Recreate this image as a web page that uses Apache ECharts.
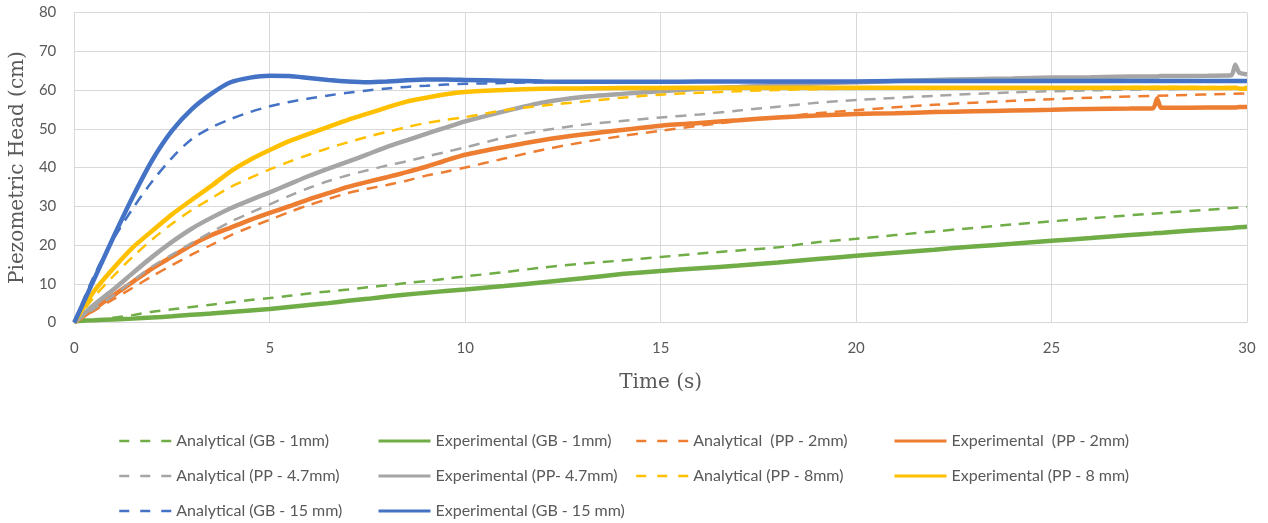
<!DOCTYPE html>
<html>
<head>
<meta charset="utf-8">
<script src="https://cdn.jsdelivr.net/npm/echarts@6/dist/echarts.min.js"></script>
<style>
html,body{margin:0;padding:0;background:#fff;}
#chart{width:1268px;height:523px;}
</style>
</head>
<body>
<div id="chart"></div>
<script>
// ---- axis ticks ----
const xTicks = [0, 5, 10, 15, 20, 25, 30];
const yTicks = [0, 10, 20, 30, 40, 50, 60, 70, 80];

// ---- analytical series (time in s) ----
const tAnalytical = [0,0.5,1,1.5,2,2.5,3,3.5,4,4.5,5,5.5,6,6.5,7,7.5,8,8.5,9,9.5,10,11,12,13,14,15,16,17,18,19,20,22,24,26,28,30];
const anaGB1  = [0,0.5,1.2,1.9,2.8,3.4,4,4.6,5.2,5.8,6.3,6.9,7.5,8,8.5,9.1,9.6,10.2,10.7,11.3,11.9,13,14.2,15.2,16,16.9,17.8,18.6,19.4,20.7,21.6,23.5,25.3,26.9,28.4,29.8];
const anaPP2  = [0,3,6,9,12,14.8,17.5,20,22.5,24.6,26.5,28.5,30.3,31.9,33.4,34.5,35.5,36.6,37.9,38.9,40,42.3,44.6,46.5,48.1,49.5,50.8,52,53,54,54.8,56.2,57.2,58,58.6,59.1];
const anaPP47 = [0,3.5,7,10.8,14.5,17.5,20.5,23.3,26,28.3,30.5,32.7,34.7,36.5,38,39.3,40.5,41.6,42.8,44,45.2,47.7,49.6,51,52,52.9,53.7,54.7,55.7,56.7,57.4,58.5,59.4,59.9,60.2,60.5];
const anaPP8  = [0,6.5,12,17,21.5,25.5,29,32,35,37.3,39.5,41.5,43.3,45,46.5,47.9,49.2,50.4,51.5,52.3,53,54.8,56,57,58,58.8,59.3,59.7,60,60.2,60.3,60.5,60.6,60.7,60.8,60.8];
const anaGB15 = [0,12,21.5,29.5,36.5,42.5,47.3,50.3,52.5,54.3,55.8,56.9,57.8,58.6,59.3,59.9,60.4,60.8,61.1,61.4,61.6,61.8,62,62.1,62.1,62.1,62.1,62.1,62.1,62.1,62.1,62.1,62.1,62.1,62.1,62.1];

// ---- experimental series ----
const tExperimental = [0,0.5,1,1.5,2,2.5,3,3.5,4,4.5,5,5.5,6,6.5,7,7.5,8,8.5,9,9.5,10,11,12,13,14,15,16,17,18,19,20,21,22,23,24,25,26,27,27.6,27.7,27.8,28,29,29.6,29.7,29.8,30];
const expGB1  = [0.5,0.6,0.8,1,1.3,1.6,2,2.3,2.7,3.1,3.5,4,4.5,5,5.6,6.1,6.7,7.2,7.7,8.1,8.5,9.4,10.4,11.4,12.5,13.3,14,14.7,15.5,16.4,17.2,18,18.8,19.6,20.3,21.1,21.8,22.6,23,23.1,23.1,23.3,24,24.4,24.5,24.6,24.7];
const expPP2  = [0,3.5,7,10.5,14,17,20,22.5,24.5,26.5,28.3,30,31.8,33.4,35,36.3,37.5,38.8,40.2,41.8,43.3,45.3,47.1,48.5,49.7,50.8,51.5,52.2,52.9,53.4,53.8,54,54.3,54.5,54.7,54.9,55.1,55.2,55.3,57.8,55.4,55.4,55.5,55.5,55.5,55.6,55.6];
const expPP47 = [0,4.5,8.5,12.8,17,20.8,24.2,27,29.5,31.6,33.6,35.7,37.8,39.7,41.5,43.4,45.3,47,48.7,50.3,51.9,54.5,56.8,58.2,59,59.7,60.3,60.8,61.3,61.7,62,62.3,62.6,62.8,63,63.2,63.3,63.5,63.5,63.5,63.6,63.6,63.7,63.8,66.5,64.5,64];
const expPP8  = [0,8,14,19.4,23.7,27.9,31.6,35.2,39,42,44.5,46.8,48.7,50.5,52.3,53.9,55.5,57,58,58.9,59.5,60,60.3,60.4,60.5,60.5,60.6,60.6,60.6,60.6,60.6,60.6,60.6,60.6,60.6,60.6,60.6,60.6,60.6,60.6,60.6,60.6,60.5,60.5,60.6,60.4,60.3];
const expGB15 = [0,11,22,32.5,42,49.5,55,59,62,63.2,63.7,63.6,63.1,62.6,62.2,62,62.2,62.5,62.7,62.7,62.6,62.4,62.2,62.1,62.1,62.1,62.2,62.2,62.2,62.2,62.2,62.3,62.3,62.3,62.3,62.3,62.3,62.3,62.3,62.3,62.3,62.3,62.3,62.3,62.3,62.3,62.3];

// ---- names / colours ----
const names = {
  aGB1: 'Analytical (GB - 1mm)', eGB1: 'Experimental (GB - 1mm)',
  aPP2: 'Analytical  (PP - 2mm)', ePP2: 'Experimental  (PP - 2mm)',
  aPP47: 'Analytical (PP - 4.7mm)', ePP47: 'Experimental (PP- 4.7mm)',
  aPP8: 'Analytical (PP - 8mm)', ePP8: 'Experimental (PP - 8 mm)',
  aGB15: 'Analytical (GB - 15 mm)', eGB15: 'Experimental (GB - 15 mm)'
};
const cGreen = '#70AD47', cOrange = '#ED7D31', cGray = '#A5A5A5', cYellow = '#FFC000', cBlue = '#4472C4';

function zip(t, v) { return t.map((x, i) => [x, v[i]]); }

const DASH = [11, 8];
function ana(name, color, vals) {
  return { name, type: 'line', data: zip(tAnalytical, vals), symbol: 'none', showSymbol: false, smooth: 0.3,
    lineStyle: { color, width: 2.5, type: DASH }, itemStyle: { color }, animation: false };
}
function exp(name, color, vals) {
  return { name, type: 'line', data: zip(tExperimental, vals), symbol: 'none', showSymbol: false, smooth: 0.2,
    lineStyle: { color, width: 4.5 }, itemStyle: { color }, animation: false };
}

const series = [
  ana(names.aGB1, cGreen, anaGB1), exp(names.eGB1, cGreen, expGB1),
  ana(names.aPP2, cOrange, anaPP2), exp(names.ePP2, cOrange, expPP2),
  ana(names.aPP47, cGray, anaPP47), exp(names.ePP47, cGray, expPP47),
  ana(names.aPP8, cYellow, anaPP8), exp(names.ePP8, cYellow, expPP8),
  ana(names.aGB15, cBlue, anaGB15), exp(names.eGB15, cBlue, expGB15)
];

const legendFont = { color: '#595959', fontFamily: 'Lato', fontSize: 16 };
function legendItem(name, color, dashed) {
  return { name,
    itemStyle: { color: 'rgba(0,0,0,0)', borderWidth: 0, opacity: 0 },
    lineStyle: { color, width: dashed ? 2.5 : 3, type: dashed ? [10, 11] : 'solid', opacity: 1 } };
}
function legendCol(left, items) {
  return { orient: 'vertical', left, top: 433, itemWidth: 52, itemHeight: 14, itemGap: 19,
    textStyle: legendFont, data: items, selectedMode: false, padding: 0 };
}

const chart = echarts.init(document.getElementById('chart'), null, { renderer: 'canvas' });
chart.setOption({
  backgroundColor: '#ffffff',
  animation: false,
  grid: { left: 72, right: 21, top: 12.5, bottom: 200.5 },
  xAxis: {
    type: 'value', min: xTicks[0], max: xTicks[xTicks.length - 1], interval: 5,
    name: 'Time (s)', nameLocation: 'middle', nameGap: 50,
    nameTextStyle: { fontFamily: 'DejaVu Serif', fontSize: 20, color: '#595959' },
    axisLine: { show: true, lineStyle: { color: '#d9d9d9', width: 1 } },
    axisTick: { show: false },
    axisLabel: { color: '#595959', fontFamily: 'Lato', fontSize: 15, margin: 18 },
    splitLine: { show: true, lineStyle: { color: '#d9d9d9', width: 1 } }
  },
  yAxis: {
    type: 'value', min: yTicks[0], max: yTicks[yTicks.length - 1], interval: 10,
    name: 'Piezometric Head (cm)', nameLocation: 'middle', nameGap: 40, nameRotate: 90,
    nameTextStyle: { fontFamily: 'DejaVu Serif', fontSize: 20, color: '#595959' },
    axisLine: { show: false }, axisTick: { show: false },
    axisLabel: { color: '#595959', fontFamily: 'Lato', fontSize: 15, margin: 18 },
    splitLine: { show: true, lineStyle: { color: '#d9d9d9', width: 1 } }
  },
  legend: [
    legendCol(118, [legendItem(names.aGB1, cGreen, true), legendItem(names.aPP47, cGray, true), legendItem(names.aGB15, cBlue, true)]),
    legendCol(377, [legendItem(names.eGB1, cGreen, false), legendItem(names.ePP47, cGray, false), legendItem(names.eGB15, cBlue, false)]),
    legendCol(635, [legendItem(names.aPP2, cOrange, true), legendItem(names.aPP8, cYellow, true)]),
    legendCol(893, [legendItem(names.ePP2, cOrange, false), legendItem(names.ePP8, cYellow, false)])
  ],
  series
});
</script>
</body>
</html>
